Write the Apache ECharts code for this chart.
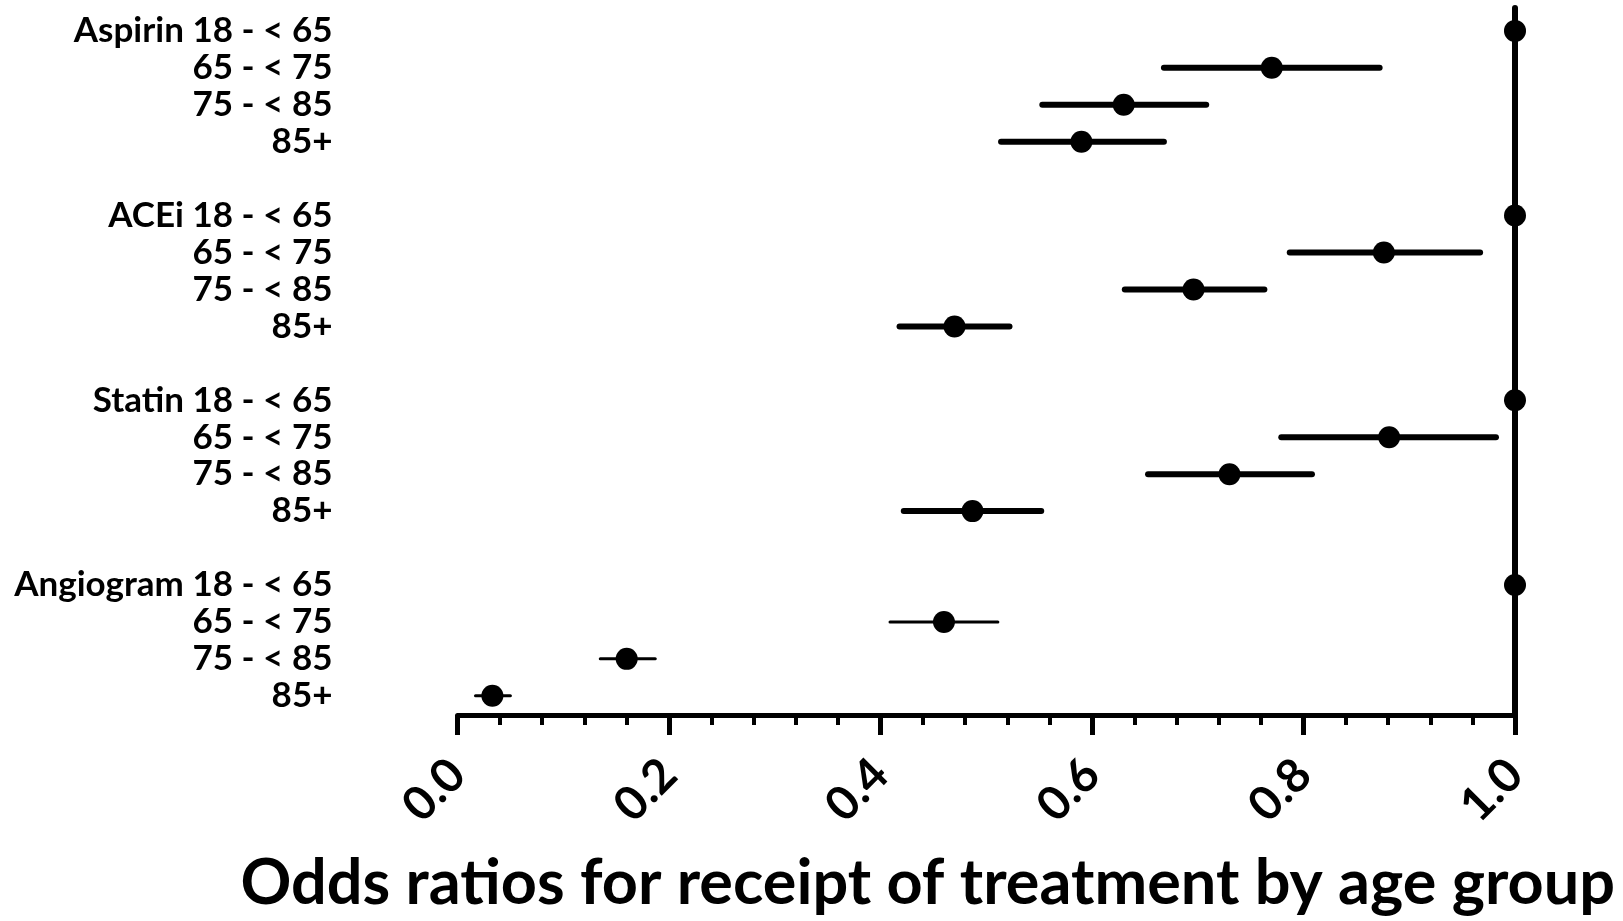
<!DOCTYPE html>
<html>
<head>
<meta charset="utf-8">
<script src="https://cdn.jsdelivr.net/npm/echarts@6/dist/echarts.min.js"></script>
<style>
html,body{margin:0;padding:0;background:#fff;}
#chart{width:1623px;height:921px;}
</style>
</head>
<body>
<div id="chart"></div>
<script>
// ---- data ----
const groups = ['Aspirin', 'ACEi', 'Statin', 'Angiogram'];
const ageGroups = ['18 - < 65', '65 - < 75', '75 - < 85', '85+'];

const aspirinOR   = [1.0, 0.770, 0.630, 0.590];
const aspirinLow  = [null, 0.668, 0.553, 0.514];
const aspirinHigh = [null, 0.872, 0.708, 0.668];

const aceiOR   = [1.0, 0.876, 0.696, 0.470];
const aceiLow  = [null, 0.787, 0.631, 0.418];
const aceiHigh = [null, 0.967, 0.763, 0.522];

const statinOR   = [1.0, 0.881, 0.730, 0.487];
const statinLow  = [null, 0.779, 0.653, 0.422];
const statinHigh = [null, 0.982, 0.808, 0.552];

const angioOR   = [1.0, 0.460, 0.160, 0.033];
const angioLow  = [null, 0.409, 0.135, 0.017];
const angioHigh = [null, 0.511, 0.187, 0.050];

const xTicks = [0.0, 0.2, 0.4, 0.6, 0.8, 1.0];
const xTitle = 'Odds ratios for receipt of treatment by age group';

// ---- build rows ----
const orByGroup = [aspirinOR, aceiOR, statinOR, angioOR];
const lowByGroup = [aspirinLow, aceiLow, statinLow, angioLow];
const highByGroup = [aspirinHigh, aceiHigh, statinHigh, angioHigh];
const rowStep = ageGroups.length + 1;          // one blank row between groups
const rowLabels = {};
const pointData = [];
const barData = [];
groups.forEach((g, gi) => {
  ageGroups.forEach((a, ai) => {
    const row = gi * rowStep + ai;
    rowLabels[row] = ai === 0 ? g + ' ' + a : a;
    pointData.push([orByGroup[gi][ai], row]);
    if (lowByGroup[gi][ai] != null) {
      barData.push([lowByGroup[gi][ai], highByGroup[gi][ai], row, gi]);
    }
  });
});
const labelRows = Object.keys(rowLabels).map(Number);
const lastRow = (groups.length - 1) * rowStep + ageGroups.length - 1;

const FONT = 'Lato';
const chart = echarts.init(document.getElementById('chart'), null, {renderer: 'canvas'});
chart.setOption({
  animation: false,
  backgroundColor: '#fff',
  title: {
    text: xTitle,
    right: 8,
    top: 852,
    padding: 0,
    textStyle: {fontFamily: FONT, fontWeight: 'bold', fontSize: 63, color: '#000'}
  },
  grid: {left: 457.5, right: 108, top: 8, bottom: 206, containLabel: false},
  xAxis: {
    type: 'value',
    min: xTicks[0],
    max: xTicks[xTicks.length - 1],
    interval: 0.2,
    axisLine: {show: true, onZero: false, lineStyle: {color: '#000', width: 5}},
    axisTick: {show: true, length: 20, lineStyle: {color: '#000', width: 5}},
    minorTick: {show: true, splitNumber: 5, length: 10, lineStyle: {color: '#000', width: 4}},
    splitLine: {show: false},
    axisLabel: {
      rotate: 45,
      margin: 52,
      fontFamily: FONT, fontWeight: 'bold', fontSize: 47, color: '#000',
      formatter: v => v.toFixed(1)
    }
  },
  yAxis: [
    {
      type: 'value',
      inverse: true,
      min: -0.62,
      max: lastRow + 0.52,
      position: 'left',
      axisLine: {show: false},
      axisTick: {show: false},
      splitLine: {show: false},
      axisLabel: {
        show: true,
        customValues: labelRows,
        margin: 125,
        fontFamily: FONT, fontWeight: 'bold', fontSize: 35, color: '#000',
        formatter: v => rowLabels[Math.round(v)] || ''
      }
    },
    {
      type: 'value',
      inverse: true,
      min: -0.62,
      max: lastRow + 0.52,
      position: 'right',
      axisLine: {show: true, onZero: false, lineStyle: {color: '#000', width: 6}},
      axisTick: {show: false},
      axisLabel: {show: false},
      splitLine: {show: false}
    }
  ],
  series: [
    {
      type: 'custom',
      yAxisIndex: 0,
      data: barData,
      encode: {x: [0, 1], y: 2},
      renderItem: function (params, api) {
        const p1 = api.coord([api.value(0), api.value(2)]);
        const p2 = api.coord([api.value(1), api.value(2)]);
        const thin = groups[api.value(3)] === 'Angiogram';
        return {
          type: 'line',
          shape: {x1: p1[0], y1: p1[1], x2: p2[0], y2: p2[1]},
          style: {stroke: '#000', lineWidth: thin ? 3 : 6, lineCap: 'round'}
        };
      },
      z: 2
    },
    {
      type: 'scatter',
      yAxisIndex: 0,
      data: pointData,
      symbol: 'circle',
      symbolSize: 22,
      itemStyle: {color: '#000', opacity: 1},
      z: 3
    }
  ]
});
</script>
</body>
</html>
